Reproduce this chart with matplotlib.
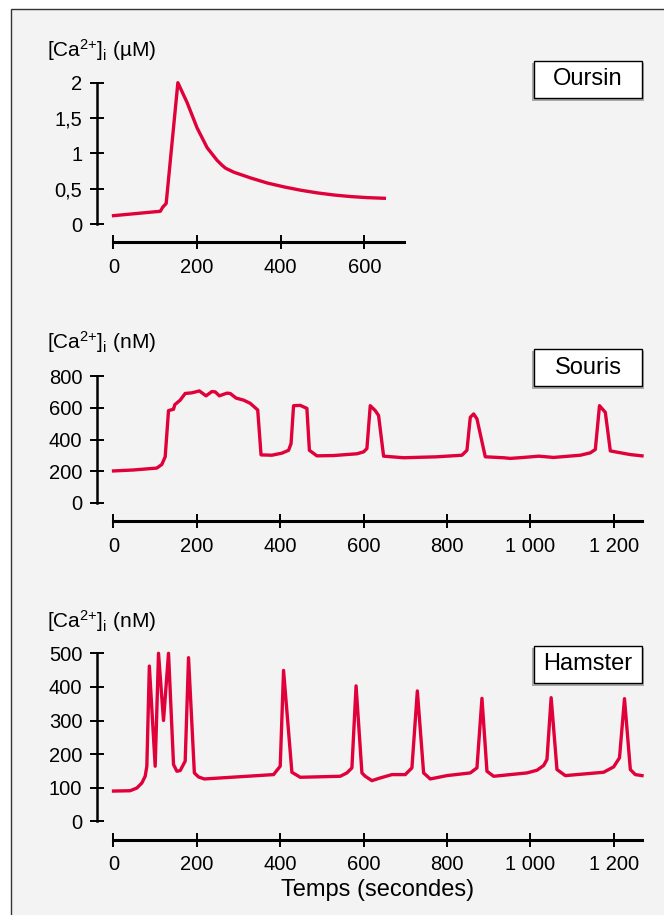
import matplotlib
matplotlib.use("Agg")
import matplotlib.pyplot as plt
from matplotlib.patches import Rectangle

plt.rcParams['font.family'] = ['Liberation Sans', 'DejaVu Sans']
plt.rcParams['mathtext.default'] = 'regular'

# --- data (time in s, concentration) ---
oursin_t = [0, 112, 118, 126, 154, 176, 200, 224, 248, 260, 268, 288, 328, 368, 408,
            448, 488, 528, 568, 608, 648]
oursin_ca = [0.118, 0.18, 0.24, 0.29, 2.0, 1.72, 1.36, 1.08, 0.9, 0.83, 0.79, 0.733,
             0.652, 0.58, 0.525, 0.478, 0.44, 0.41, 0.388, 0.373, 0.364]

souris_t = [0, 48, 104, 116, 124, 132, 140, 144, 147, 160, 172, 188, 206, 222, 236,
            244, 254, 272, 280, 294, 312, 328, 346, 354, 380, 404, 420, 426, 432,
            448, 464, 470, 488, 528, 584, 600, 608, 616, 628, 636, 648, 696, 776,
            836, 848, 856, 864, 872, 892, 936, 952, 984, 1020, 1056, 1120, 1144,
            1156, 1166, 1180, 1192, 1240, 1268]
souris_ca = [202, 208, 220, 243, 291, 582, 588, 590, 619, 648, 690, 694, 706, 675,
             702, 700, 675, 692, 690, 661, 648, 628, 586, 303, 301, 314, 332, 374,
             613, 615, 596, 332, 297, 299, 310, 322, 343, 613, 582, 551, 295, 285,
             291, 301, 332, 540, 561, 530, 291, 285, 281, 287, 295, 287, 301, 316,
             337, 613, 571, 328, 305, 297]

hamster_t = [0, 40, 56, 68, 76, 80, 86, 100, 108, 120, 132, 144, 152, 160, 172, 180,
             194, 204, 218, 384, 400, 408, 428, 448, 544, 560, 572, 582, 596, 604,
             620, 640, 668, 700, 716, 729, 744, 760, 800, 856, 872, 884, 896, 912,
             992, 1016, 1032, 1040, 1050, 1064, 1084, 1176, 1200, 1214, 1226, 1240,
             1252, 1268]
hamster_ca = [90, 91, 99, 114, 134, 164, 462, 164, 500, 300, 500, 169, 149, 151, 179,
              487, 144, 132, 126, 139, 164, 449, 146, 131, 134, 144, 159, 403, 144,
              134, 121, 129, 139, 139, 159, 388, 144, 126, 136, 144, 159, 366, 149,
              134, 144, 152, 166, 184, 368, 154, 136, 146, 162, 189, 365, 154, 139,
              136]

x_ticks_short = [0, 200, 400, 600]
x_ticks_long = [0, 200, 400, 600, 800, 1000, 1200]
x_labels_long = ['0', '200', '400', '600', '800', '1 000', '1 200']
y_ticks_oursin = [0, 0.5, 1, 1.5, 2]
y_labels_oursin = ['0', '0,5', '1', '1,5', '2']
y_ticks_souris = [0, 200, 400, 600, 800]
y_ticks_hamster = [0, 100, 200, 300, 400, 500]

W, H = 664, 915
RED = '#e0003a'

fig = plt.figure(figsize=(W / 100, H / 100), dpi=100)
fig.patch.set_facecolor('white')

# panel background with frame (only top/left edges visible)
fig.patches.append(Rectangle((10.5 / W, -0.05), 1.1, 1.05 - 9.5 / H,
                             transform=fig.transFigure, facecolor='#f3f3f3',
                             edgecolor='#333333', linewidth=1.0, zorder=-5))


def px_axes(left, top, right, bottom):
    return fig.add_axes([left / W, 1 - bottom / H, (right - left) / W, (bottom - top) / H])


def style(ax, xlim, ylim, xticks, xlabels, yticks, ylabels):
    ax.set_facecolor('none')
    ax.set_xlim(*xlim)
    ax.set_ylim(*ylim)
    for s in ('top', 'right'):
        ax.spines[s].set_visible(False)
    ax.spines['left'].set_position(('outward', 12.2))
    ax.spines['bottom'].set_position(('outward', 13.3))
    ax.spines['left'].set_linewidth(1.8)
    ax.spines['bottom'].set_linewidth(2.2)
    ax.set_xticks(xticks, xlabels)
    ax.set_yticks(yticks, ylabels)
    ax.tick_params(axis='both', direction='inout', length=10.5, width=1.4,
                   labelsize=14.5, colors='black')
    ax.tick_params(axis='x', pad=6)
    ax.tick_params(axis='y', pad=5)


def label_box(text, top, bottom):
    left, right = 534, 642
    fig.patches.append(Rectangle(((left - 2) / W, 1 - (bottom + 3) / H),
                                 (right - left + 4) / W, (bottom - top + 1) / H,
                                 transform=fig.transFigure, facecolor='#a8a8a8',
                                 edgecolor='none', zorder=1))
    fig.patches.append(Rectangle((left / W, 1 - bottom / H), (right - left) / W,
                                 (bottom - top) / H, transform=fig.transFigure,
                                 facecolor='white', edgecolor='black', linewidth=1.0,
                                 zorder=2))
    fig.text((left + right) / 2 / W, 1 - (top + bottom) / 2 / H, text,
             ha='center', va='center', fontsize=17, zorder=3)


# Oursin
ax1 = px_axes(113.5, 82.7, 404, 224)
ax1.plot(oursin_t, oursin_ca, color=RED, lw=2.4, clip_on=False, solid_joinstyle='round')
style(ax1, (0, 695), (0, 2), x_ticks_short, [str(v) for v in x_ticks_short],
      y_ticks_oursin, y_labels_oursin)
fig.text(47 / W, 1 - 50 / H, '[Ca$^{2{+}}$]$_{i}$ (µM)', ha='left', va='center', fontsize=15)
label_box('Oursin', 61, 97.5)

# Souris
ax2 = px_axes(113.5, 376, 642, 503)
ax2.plot(souris_t, souris_ca, color=RED, lw=2.4, clip_on=False, solid_joinstyle='round')
style(ax2, (0, 1268), (0, 800), x_ticks_long, x_labels_long,
      y_ticks_souris, [str(v) for v in y_ticks_souris])
fig.text(47 / W, 1 - 342 / H, '[Ca$^{2{+}}$]$_{i}$ (nM)', ha='left', va='center', fontsize=15)
label_box('Souris', 349, 386)

# Hamster
ax3 = px_axes(113.5, 653.3, 642, 821.3)
ax3.plot(hamster_t, hamster_ca, color=RED, lw=2.4, clip_on=False, solid_joinstyle='round')
style(ax3, (0, 1268), (0, 500), x_ticks_long, x_labels_long,
      y_ticks_hamster, [str(v) for v in y_ticks_hamster])
fig.text(47 / W, 1 - 621.5 / H, '[Ca$^{2{+}}$]$_{i}$ (nM)', ha='left', va='center', fontsize=15)
label_box('Hamster', 645.5, 682.5)

fig.text(377.5 / W, 1 - 890 / H, 'Temps (secondes)', ha='center', va='center', fontsize=17)

fig.savefig('out.png', dpi=100)
